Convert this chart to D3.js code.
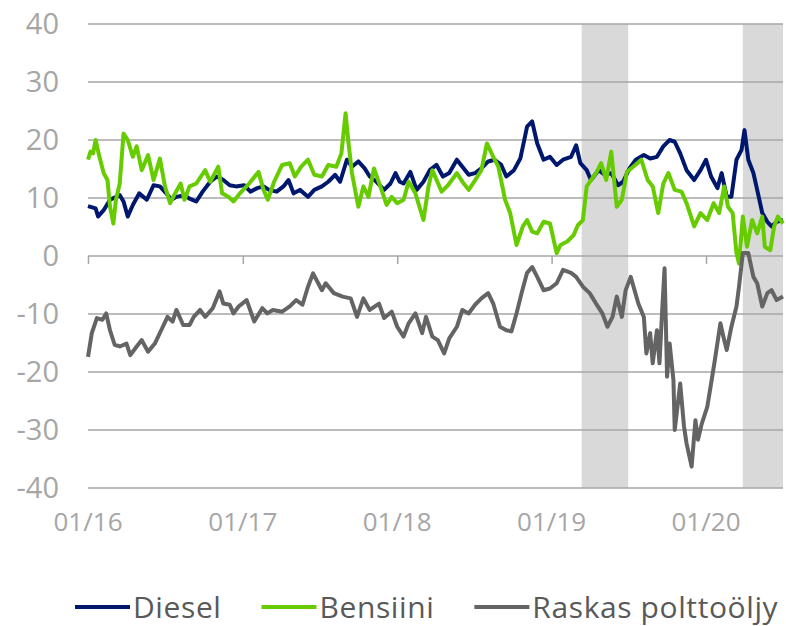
<!DOCTYPE html>
<html>
<head>
<meta charset="utf-8">
<script src="https://cdn.jsdelivr.net/npm/d3@7"></script>
<style>
  body { margin: 0; background: #fff; }
  svg text { font-family: "Open Sans", sans-serif; fill: #a6a6a6; }
</style>
</head>
<body>
<div class="canvas"></div>
<script>
// Series names and colours
const seriesNames = ['Diesel', 'Bensiini', 'Raskas polttoöljy'];
const seriesColours = ['#00176e', '#66cc00', '#646464'];

// Shaded periods
const shadeStarts = ['2019-03-13', '2020-03-28'];
const shadeEnds = ['2019-07-01', '2020-07-01'];

// y ticks
const yTicks = [-40, -30, -20, -10, 0, 10, 20, 30, 40];

// Diesel
const dieselDates = ['2016-01-01','2016-01-19','2016-01-25','2016-02-07','2016-02-22','2016-03-16','2016-03-25','2016-04-04','2016-04-16','2016-05-01','2016-05-19','2016-06-04','2016-06-19','2016-07-04','2016-07-16','2016-07-28','2016-08-16','2016-08-28','2016-09-13','2016-09-28','2016-10-16','2016-11-01','2016-11-16','2016-12-01','2016-12-16','2017-01-04','2017-01-19','2017-02-04','2017-02-19','2017-03-04','2017-03-22','2017-04-07','2017-04-19','2017-05-01','2017-05-16','2017-06-04','2017-06-19','2017-07-07','2017-07-22','2017-08-07','2017-08-19','2017-09-04','2017-09-16','2017-10-01','2017-10-16','2017-10-28','2017-11-13','2017-12-01','2017-12-16','2017-12-28','2018-01-07','2018-01-16','2018-02-01','2018-02-16','2018-03-04','2018-03-19','2018-04-04','2018-04-19','2018-05-04','2018-05-22','2018-06-04','2018-06-19','2018-07-04','2018-07-19','2018-08-04','2018-08-19','2018-09-04','2018-09-16','2018-10-04','2018-10-19','2018-11-04','2018-11-16','2018-11-28','2018-12-13','2018-12-28','2019-01-13','2019-01-28','2019-02-16','2019-02-28','2019-03-10','2019-03-25','2019-04-04','2019-04-22','2019-05-07','2019-05-22','2019-06-07','2019-06-19','2019-07-04','2019-07-19','2019-08-07','2019-08-22','2019-09-07','2019-09-22','2019-10-07','2019-10-19','2019-11-01','2019-11-16','2019-12-04','2019-12-19','2020-01-01','2020-01-13','2020-01-28','2020-02-07','2020-02-19','2020-03-01','2020-03-13','2020-03-25','2020-04-01','2020-04-10','2020-04-22','2020-05-01','2020-05-13','2020-05-25','2020-06-04','2020-06-16','2020-07-01'];
const dieselValues = [8.6,8.2,6.8,7.9,9.7,10.5,9.4,6.8,8.8,10.8,9.7,12.2,12,10.8,9.7,10.2,10.5,9.9,9.4,11.1,12.8,13.7,13.1,12.2,12,12.2,11.1,11.7,12,11.4,11.1,12,13.1,10.8,11.4,10.2,11.4,12,12.8,14,12.8,16.6,15.4,16.3,15.1,13.7,12.8,11.4,12.5,14.3,12.8,12.5,14.5,11.4,12.8,14.8,15.7,13.7,14.3,16.6,15.4,14,14.3,15.1,16.3,16.6,15.7,13.7,14.8,16.8,22.3,23.2,19.4,16.6,17.1,15.7,16.6,17.1,19.1,16,14.8,13.1,14.8,14,14.3,12.2,12.8,15.1,16.6,17.4,16.8,17.1,18.9,20,19.7,17.7,14.8,13.1,14.8,16.6,13.7,11.7,14.3,10.2,10.2,16.6,18.3,21.7,16.6,14.3,11.4,7.4,5.9,5.1,5.9,6.2];

// Bensiini
const bensiiniDates = ['2016-01-01','2016-01-07','2016-01-13','2016-01-19','2016-01-28','2016-02-07','2016-02-16','2016-02-22','2016-03-01','2016-03-07','2016-03-16','2016-03-25','2016-04-04','2016-04-16','2016-04-25','2016-05-07','2016-05-22','2016-06-04','2016-06-19','2016-07-01','2016-07-13','2016-07-25','2016-08-07','2016-08-16','2016-08-28','2016-09-13','2016-10-04','2016-10-16','2016-11-04','2016-11-13','2016-11-28','2016-12-10','2016-12-25','2017-01-16','2017-02-07','2017-02-19','2017-03-01','2017-03-16','2017-04-04','2017-04-22','2017-05-04','2017-05-19','2017-06-04','2017-06-19','2017-07-07','2017-07-22','2017-08-10','2017-08-22','2017-09-01','2017-09-07','2017-09-16','2017-09-25','2017-10-01','2017-10-13','2017-10-25','2017-11-07','2017-11-22','2017-12-07','2017-12-19','2018-01-01','2018-01-16','2018-01-28','2018-02-13','2018-03-04','2018-03-16','2018-03-25','2018-04-16','2018-05-01','2018-05-22','2018-06-04','2018-06-19','2018-07-07','2018-07-19','2018-08-01','2018-08-16','2018-08-28','2018-09-13','2018-09-25','2018-10-10','2018-10-25','2018-11-04','2018-11-16','2018-11-28','2018-12-13','2018-12-28','2019-01-13','2019-01-22','2019-02-07','2019-02-22','2019-03-04','2019-03-16','2019-03-25','2019-04-04','2019-04-16','2019-04-28','2019-05-10','2019-05-22','2019-06-04','2019-06-16','2019-06-28','2019-07-13','2019-08-01','2019-08-16','2019-08-28','2019-09-10','2019-09-22','2019-10-04','2019-10-19','2019-11-04','2019-11-16','2019-12-04','2019-12-19','2020-01-04','2020-01-19','2020-02-01','2020-02-13','2020-02-22','2020-03-04','2020-03-13','2020-03-19','2020-03-28','2020-04-07','2020-04-19','2020-05-01','2020-05-13','2020-05-19','2020-06-01','2020-06-10','2020-06-19','2020-07-01'];
const bensiiniValues = [16.6,18,17.7,20,17.1,14.3,13.1,8.5,5.6,9.7,12.5,21.1,20,17.1,18.9,14.8,17.4,13.1,16.8,12,9.1,10.8,12.5,9.7,12,12.5,14.8,12.8,15.4,10.8,10.2,9.4,10.8,12.5,14.5,11.4,9.7,12.8,15.7,16,13.7,15.4,16.6,14,13.7,15.7,15.4,17.7,24.6,20,14.3,10.8,8.5,12,10.2,15.1,12,8.8,10.2,9.1,9.7,12.8,10.8,6.2,12,14.8,11.1,12.2,14.3,12.8,11.4,13.4,14.8,19.4,17.1,15.4,9.7,7.4,1.9,5.1,6.2,4.2,3.9,5.9,5.6,0.5,1.9,2.5,3.6,5.3,6.2,12,13.1,14.3,16,13.1,18,8.5,9.7,14.5,15.4,16.6,13.1,12,7.4,12.5,14.3,11.4,11.1,9.1,5.1,7.4,6.2,9.1,7.4,12,8.5,7.4,0.5,-1.3,6.8,1.6,6.2,3.9,6.8,1.6,1,5.1,6.8,5.6];

// Raskas polttoöljy
const raskasDates = ['2016-01-01','2016-01-10','2016-01-22','2016-02-04','2016-02-13','2016-02-22','2016-03-04','2016-03-16','2016-04-01','2016-04-10','2016-04-25','2016-05-07','2016-05-22','2016-06-07','2016-06-22','2016-07-07','2016-07-19','2016-07-28','2016-08-13','2016-08-28','2016-09-07','2016-09-22','2016-10-04','2016-10-22','2016-11-07','2016-11-16','2016-12-01','2016-12-10','2016-12-22','2017-01-10','2017-01-28','2017-02-16','2017-02-28','2017-03-13','2017-04-04','2017-04-22','2017-05-07','2017-05-22','2017-06-04','2017-06-16','2017-07-07','2017-07-16','2017-08-04','2017-08-25','2017-09-13','2017-09-28','2017-10-13','2017-10-28','2017-11-19','2017-12-01','2017-12-19','2018-01-01','2018-01-16','2018-01-28','2018-02-13','2018-03-01','2018-03-10','2018-03-25','2018-04-07','2018-04-22','2018-05-04','2018-05-22','2018-06-04','2018-06-19','2018-07-04','2018-07-19','2018-08-04','2018-08-16','2018-09-01','2018-09-16','2018-09-28','2018-10-10','2018-10-22','2018-11-04','2018-11-16','2018-11-28','2018-12-13','2018-12-28','2019-01-13','2019-01-28','2019-02-16','2019-02-28','2019-03-16','2019-04-01','2019-04-16','2019-05-01','2019-05-13','2019-05-25','2019-06-04','2019-06-16','2019-06-25','2019-07-07','2019-07-25','2019-08-07','2019-08-13','2019-08-22','2019-08-28','2019-09-07','2019-09-13','2019-09-19','2019-09-25','2019-10-01','2019-10-07','2019-10-16','2019-10-19','2019-11-01','2019-11-10','2019-11-16','2019-11-28','2019-12-07','2019-12-13','2019-12-22','2020-01-04','2020-01-13','2020-01-22','2020-02-04','2020-02-13','2020-02-19','2020-03-01','2020-03-13','2020-03-19','2020-03-28','2020-04-10','2020-04-22','2020-05-01','2020-05-13','2020-05-25','2020-06-04','2020-06-16','2020-07-01'];
const raskasValues = [-17.4,-13.3,-10.7,-11,-9.9,-12.8,-15.3,-15.6,-15.1,-17.1,-15.6,-14.5,-16.5,-15.1,-12.8,-10.5,-11.3,-9.3,-11.9,-11.9,-10.5,-9.3,-10.5,-9,-6.1,-8.2,-8.4,-9.9,-8.7,-7.6,-11.3,-9,-9.9,-9.3,-9.6,-8.7,-7.6,-8.4,-5.3,-3,-5.9,-4.7,-6.4,-7,-7.3,-10.5,-7.3,-9.3,-8.2,-10.7,-9.6,-12.2,-13.9,-11.6,-9.9,-13.3,-10.5,-13.9,-14.5,-16.8,-14.2,-12.2,-9.3,-9.9,-8.4,-7.3,-6.4,-8.2,-12.2,-12.8,-13,-9.9,-6.4,-2.9,-1.9,-3.6,-5.9,-5.6,-4.7,-2.4,-2.9,-3.6,-5.3,-6.4,-8.2,-9.9,-12.2,-10.5,-7,-10.5,-5.9,-3.6,-8.2,-10.5,-16.8,-13.3,-18.5,-12.8,-18.5,-9.9,-2.1,-20.8,-15.1,-21.4,-30,-22,-29.4,-32.3,-36.3,-28.3,-31.7,-28.9,-26,-22,-17.9,-11.6,-14.5,-16.2,-12.2,-8.7,-5.3,0.5,0.5,-3.6,-4.7,-8.7,-6.4,-5.9,-7.6,-7];

const width = 786, height = 626;
const plot = {left: 88, right: 783, top: 24, bottom: 488};
const parse = d3.timeParse('%Y-%m-%d');

const svg = d3.select('.canvas')
    .append('svg')
    .attr('width', width)
    .attr('height', height);

const x = d3.scaleTime()
    .domain([parse('2016-01-01'), parse('2020-07-01')])
    .range([plot.left, plot.right]);

const y = d3.scaleLinear()
    .domain([-40, 40])
    .range([plot.bottom, plot.top]);

// Shaded periods
svg.append('g').selectAll('rect')
    .data(shadeStarts.map((s, i) => ({s: parse(s), e: parse(shadeEnds[i])})))
    .enter().append('rect')
    .attr('x', d => x(d.s))
    .attr('width', d => x(d.e) - x(d.s))
    .attr('y', plot.top)
    .attr('height', plot.bottom - plot.top)
    .attr('fill', '#d9d9d9');

// Gridlines
svg.append('g').selectAll('line')
    .data(yTicks)
    .enter().append('line')
    .attr('x1', plot.left)
    .attr('x2', plot.right)
    .attr('y1', d => y(d))
    .attr('y2', d => y(d))
    .attr('stroke', '#a6a6a6')
    .attr('stroke-width', 1.5);

// y labels
svg.append('g').selectAll('text')
    .data(yTicks)
    .enter().append('text')
    .attr('x', 59)
    .attr('y', d => y(d))
    .attr('dy', '0.36em')
    .attr('text-anchor', 'end')
    .style('font-size', '29px')
    .text(d => d);

// x axis ticks on the zero line
const yearTicks = x.ticks(d3.timeYear.every(1));
const xAxis = d3.axisBottom(x)
    .tickValues(yearTicks)
    .tickSize(8)
    .tickSizeOuter(0)
    .tickFormat('');
const xg = svg.append('g')
    .attr('transform', `translate(0, ${y(0)})`)
    .call(xAxis);
xg.select('.domain').remove();
xg.selectAll('line').attr('stroke', '#a6a6a6').attr('stroke-width', 1.5);

// x labels at the bottom
svg.append('g').selectAll('text')
    .data(yearTicks)
    .enter().append('text')
    .attr('x', d => x(d))
    .attr('y', 531)
    .attr('text-anchor', 'middle')
    .style('font-size', '26px')
    .text(d3.timeFormat('%m/%y'));

// Lines
const line = d3.line()
    .x(d => x(d.date))
    .y(d => y(d.value));

const seriesData = [
    dieselDates.map((d, i) => ({date: parse(d), value: dieselValues[i]})),
    bensiiniDates.map((d, i) => ({date: parse(d), value: bensiiniValues[i]})),
    raskasDates.map((d, i) => ({date: parse(d), value: raskasValues[i]}))
];

svg.append('g').selectAll('path')
    .data(seriesData)
    .enter().append('path')
    .attr('d', line)
    .attr('fill', 'none')
    .attr('stroke', (d, i) => seriesColours[i])
    .attr('stroke-width', 4)
    .attr('stroke-linejoin', 'round');

// Legend
const legend = svg.append('g').attr('transform', 'translate(75, 607)');
let lx = 0;
seriesNames.forEach((name, i) => {
    const item = legend.append('g').attr('transform', `translate(${lx}, 0)`);
    item.append('line')
        .attr('x1', 0).attr('x2', 55)
        .attr('stroke', seriesColours[i])
        .attr('stroke-width', 4);
    const t = item.append('text')
        .attr('x', 58)
        .attr('y', 11)
        .style('font-size', '30px')
        .style('letter-spacing', '0.6px')
        .style('fill', '#595959')
        .text(name);
    lx += 58 + t.node().getComputedTextLength() + 40;
});
</script>
</body>
</html>
